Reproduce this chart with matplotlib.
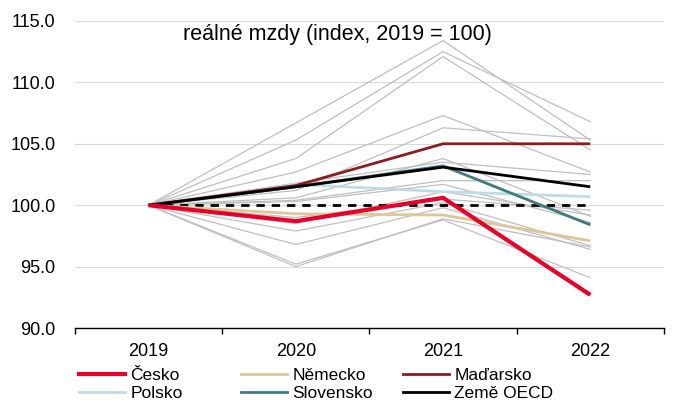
import matplotlib.pyplot as plt
from matplotlib.lines import Line2D

plt.rcParams['font.family'] = ['Liberation Sans', 'DejaVu Sans']

years = ["2019", "2020", "2021", "2022"]

# ostatni zeme (sede linie)
others = [
    [100, 106.7, 113.4, 105.3],
    [100, 105.3, 112.5, 106.8],
    [100, 103.8, 112.1, 104.5],
    [100, 102.7, 107.3, 102.7],
    [100, 101.2, 106.3, 105.4],
    [100, 100.6, 103.8, 99.1],
    [100, 101.8, 103.5, 102.5],
    [100, 100.4, 102.0, 102.0],
    [100, 100.3, 101.7, 98.6],
    [100, 98.5, 101.1, 99.2],
    [100, 97.9, 100.2, 96.7],
    [100, 96.8, 99.8, 96.4],
    [100, 95.2, 98.8, 94.1],
    [100, 95.0, 98.9, 96.6],
    [100, 99.0, 100.5, 99.6],
]
baseline = [100, 100, 100, 100]

cesko = [100, 98.7, 100.6, 92.7]
nemecko = [100, 99.3, 99.2, 97.1]
madarsko = [100, 101.6, 105.0, 105.0]
polsko = [100, 101.7, 101.1, 100.7]
slovensko = [100, 101.5, 103.2, 98.4]
oecd = [100, 101.5, 103.1, 101.5]

fig = plt.figure(figsize=(6.88, 4.03), dpi=100)
ax = fig.add_axes([0.109, 0.186, 0.856, 0.762])
x = range(len(years))

for vals in others:
    ax.plot(x, vals, color="#bfbfbf", lw=0.9, zorder=2)

ax.plot(x, baseline, color="black", lw=2, ls=(0, (3, 2.5)), zorder=3)

series = [
    ("Polsko", polsko, "#bddde2", 2.0),
    ("Německo", nemecko, "#dcc79a", 2.0),
    ("Slovensko", slovensko, "#3e7b7d", 2.0),
    ("Maďarsko", madarsko, "#8c1c22", 2.0),
    ("Země OECD", oecd, "black", 2.0),
    ("Česko", cesko, "#e8002d", 3.0),
]
handles = {}
for name, vals, col, lw in series:
    ax.plot(x, vals, color=col, lw=lw, zorder=4, solid_capstyle="butt")
    handles[name] = Line2D([], [], color=col, lw=lw)

ax.set_ylim(90, 115)
ax.set_xlim(-0.5, 3.5)
ax.set_yticks([90, 95, 100, 105, 110, 115])
ax.set_yticklabels([f"{v:.1f}" for v in [90, 95, 100, 105, 110, 115]])
ax.set_xticks(list(x))
ax.set_xticklabels(years)
ax.set_xticks([-0.5, 0.5, 1.5, 2.5, 3.5], minor=True)
ax.tick_params(axis="x", which="major", length=0, pad=11, labelsize=13)
ax.tick_params(axis="x", which="minor", length=4, width=1, direction="out")
ax.tick_params(axis="y", length=0, pad=14, labelsize=13)
ax.yaxis.grid(True, color="#d9d9d9", lw=0.8)
ax.set_axisbelow(True)
for s in ["top", "right", "left"]:
    ax.spines[s].set_visible(False)
ax.spines["bottom"].set_linewidth(1)

ax.text(0.183, 0.955, "reálné mzdy (index, 2019 = 100)", transform=ax.transAxes,
        fontsize=15.5, va="center", ha="left")

# legenda: tri sloupce se stejnou sirkou
columns = [["Česko", "Polsko"], ["Německo", "Slovensko"], ["Maďarsko", "Země OECD"]]
col_x = [0.1148, 0.3503, 0.5858]
for names, cx in zip(columns, col_x):
    leg = fig.legend([handles[n] for n in names], names, loc="upper left",
                     bbox_to_anchor=(cx, 0.086), frameon=False, fontsize=12.5,
                     handlelength=2.65, labelspacing=0.12, handletextpad=0.3,
                     borderpad=0, borderaxespad=0)

fig.savefig("out.png", dpi=100)
